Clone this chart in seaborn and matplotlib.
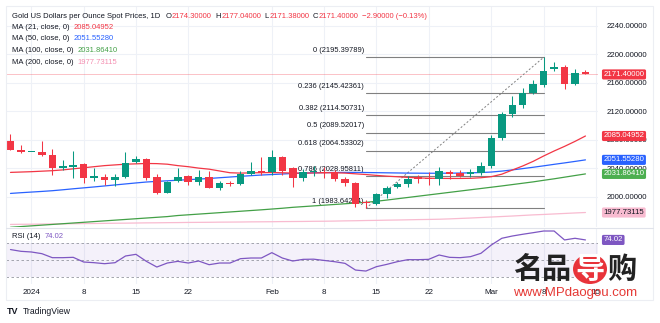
import matplotlib
matplotlib.use("Agg")
import numpy as np
import pandas as pd
import matplotlib.pyplot as plt
import matplotlib.transforms as mtransforms
from matplotlib.patches import Rectangle, Ellipse
from matplotlib.lines import Line2D
import seaborn as sns

# ---------------- data ----------------
opens = [2078.0, 2066.0, 2062.0, 2063.0, 2058.5, 2040.5, 2042.0, 2045.5, 2026.5, 2028.0,
         2023.5, 2027.0, 2048.5, 2053.0, 2028.0, 2005.5, 2022.5, 2029.0, 2021.0, 2028.0,
         2012.5, 2019.5, 2017.8, 2031.3, 2036.0, 2034.0, 2055.0, 2039.5, 2025.7, 2035.0,
         2035.0, 2034.0, 2024.7, 2019.0, 1992.0, 1990.0, 2004.0, 2013.0, 2017.7, 2027.9,
         2025.0, 2024.7, 2035.0, 2032.7, 2031.3, 2033.5, 2042.5, 2081.8, 2115.9, 2128.5,
         2145.8, 2156.5, 2179.0, 2182.2, 2157.9, 2174.3]
highs = [2088.0, 2073.0, 2063.0, 2078.5, 2067.0, 2051.5, 2064.0, 2046.5, 2039.5, 2031.5,
         2032.0, 2062.0, 2057.5, 2054.0, 2031.5, 2022.5, 2039.5, 2030.0, 2037.5, 2036.5,
         2022.5, 2022.0, 2036.5, 2049.0, 2056.0, 2065.5, 2057.0, 2041.0, 2039.0, 2043.0,
         2041.0, 2037.0, 2028.0, 2020.5, 1995.0, 2005.5, 2015.0, 2021.0, 2029.0, 2030.5,
         2035.0, 2041.0, 2037.5, 2037.5, 2039.0, 2049.0, 2086.4, 2119.0, 2141.1, 2151.9,
         2163.6, 2195.4, 2188.3, 2184.5, 2179.0, 2177.04]
lows = [2065.0, 2061.0, 2062.0, 2057.5, 2030.5, 2037.0, 2025.5, 2018.5, 2021.5, 2017.0,
        2015.5, 2026.0, 2047.0, 2024.0, 2003.5, 2004.5, 2020.0, 2017.0, 2016.5, 2011.5,
        2009.0, 2015.5, 2016.0, 2030.0, 2030.5, 2031.0, 2030.5, 2013.5, 2021.5, 2029.5,
        2025.7, 2022.5, 2015.5, 1985.9, 1983.64, 1988.0, 1998.5, 2012.0, 2014.0, 2018.5,
        2017.0, 2016.3, 2024.5, 2027.0, 2027.5, 2031.0, 2040.5, 2079.4, 2111.3, 2125.0,
        2143.5, 2154.2, 2176.0, 2150.9, 2156.0, 2171.38]
closes = [2066.0, 2063.0, 2062.5, 2058.5, 2040.5, 2043.0, 2044.0, 2026.5, 2029.0, 2023.5,
          2027.0, 2046.5, 2053.0, 2026.0, 2005.5, 2021.0, 2027.0, 2021.0, 2028.0, 2012.5,
          2019.5, 2017.8, 2031.3, 2036.0, 2033.5, 2055.0, 2036.0, 2025.7, 2035.0, 2035.5,
          2033.0, 2025.0, 2019.0, 1990.0, 1991.0, 2003.7, 2011.6, 2017.3, 2024.7, 2024.7,
          2024.5, 2036.4, 2032.2, 2029.3, 2034.0, 2042.9, 2082.6, 2115.9, 2128.5, 2145.8,
          2157.9, 2176.6, 2182.2, 2157.9, 2173.8, 2171.4]

ma21 = [2034.0, 2034.5, 2035.0, 2035.7, 2036.4, 2037.5, 2039.0, 2040.5, 2042.0, 2043.5,
        2044.5, 2045.5, 2046.0, 2046.5, 2046.3, 2045.5, 2043.5, 2042.0, 2040.0, 2038.5,
        2036.0, 2033.5, 2033.0, 2033.3, 2033.6, 2033.8, 2033.5, 2033.0, 2033.0, 2033.2,
        2033.4, 2033.5, 2033.0, 2032.0, 2031.0, 2029.8, 2028.7, 2027.9, 2027.0, 2026.3,
        2025.8, 2025.6, 2025.5, 2025.5, 2025.7, 2026.5, 2028.0, 2031.5, 2037.3, 2043.0,
        2049.5, 2057.0, 2064.0, 2070.5, 2077.5, 2085.05]
ma50 = [2004.5, 2005.5, 2006.4, 2007.3, 2008.3, 2009.6, 2011.0, 2012.3, 2013.6, 2015.0,
        2016.4, 2017.8, 2019.2, 2020.5, 2021.4, 2022.2, 2023.0, 2023.8, 2024.6, 2025.5,
        2026.5, 2027.5, 2028.5, 2029.4, 2030.3, 2031.0, 2031.7, 2032.5, 2033.0, 2033.4,
        2033.7, 2033.9, 2034.0, 2034.0, 2033.8, 2033.6, 2033.4, 2033.2, 2033.0, 2032.9,
        2032.8, 2032.8, 2032.9, 2033.1, 2033.4, 2033.8, 2034.5, 2035.8, 2037.5, 2039.3,
        2041.2, 2043.2, 2045.3, 2047.3, 2049.4, 2051.55]
ma100 = [1957.0, 1958.0, 1959.0, 1960.0, 1961.0, 1962.0, 1963.0, 1964.0, 1965.0, 1966.0,
         1967.0, 1968.0, 1969.0, 1970.0, 1971.0, 1972.0, 1973.5, 1974.5, 1975.5, 1976.5,
         1977.5, 1978.5, 1979.5, 1980.5, 1981.5, 1982.6, 1983.7, 1985.0, 1986.0, 1987.0,
         1988.0, 1989.0, 1990.0, 1991.0, 1992.0, 1993.5, 1995.2, 1997.0, 1998.8, 2000.6,
         2002.4, 2004.2, 2006.0, 2007.8, 2009.6, 2011.4, 2013.2, 2015.0, 2016.9, 2018.8,
         2020.7, 2022.9, 2025.0, 2027.3, 2029.6, 2031.86]
ma200 = [1961.0, 1961.2, 1961.3, 1961.5, 1961.7, 1961.8, 1962.0, 1962.2, 1962.3, 1962.5,
         1962.7, 1962.8, 1963.0, 1963.2, 1963.3, 1963.5, 1963.6, 1963.8, 1963.9, 1964.0,
         1964.2, 1964.3, 1964.4, 1964.6, 1964.7, 1964.8, 1965.0, 1965.1, 1965.2, 1965.4,
         1965.5, 1965.7, 1966.0, 1966.2, 1966.5, 1966.7, 1967.0, 1967.2, 1967.5, 1967.8,
         1968.0, 1968.3, 1968.8, 1969.4, 1970.0, 1970.7, 1971.4, 1972.1, 1972.8, 1973.6,
         1974.4, 1975.0, 1975.7, 1976.4, 1977.1, 1977.73]
rsi14 = [62.5, 60.4, 59.6, 57.6, 52.8, 52.8, 53.2, 47.6, 46.8, 45.6,
         46.8, 54.8, 56.8, 48.4, 41.6, 46.4, 48.4, 46.4, 48.8, 44.4,
         46.4, 46.4, 51.6, 52.4, 52.4, 58.8, 52.4, 48.8, 50.8, 51.0,
         49.5, 48.0, 46.0, 38.0, 36.8, 42.0, 44.8, 48.0, 50.4, 50.4,
         50.8, 56.0, 53.2, 52.8, 54.0, 58.0, 68.0, 76.0, 78.7, 80.8,
         82.7, 84.7, 84.7, 74.0, 76.0, 74.02]

date_tick_pos = [2, 7, 12, 17, 25, 30, 35, 40, 46, 51, 56]
date_tick_labels = ["2024", "8", "15", "22", "Feb", "8", "15", "22", "Mar", "8", "15"]
price_ticks = [2000, 2040, 2080, 2120, 2160, 2200, 2240]

fib_levels = ["0", "0.236", "0.382", "0.5", "0.618", "0.786", "1"]
fib_prices = [2195.39789, 2145.42361, 2114.50731, 2089.52017, 2064.53302, 2028.95811, 1983.64244]
fib_start, fib_end = 34, 51

ma_names = ["MA (21, close, 0)", "MA (50, close, 0)", "MA (100, close, 0)", "MA (200, close, 0)"]
ma_last = ["2085.04952", "2051.55280", "2031.86410", "1977.73115"]
ma_last_val = [2085.04952, 2051.55280, 2031.86410, 1977.73115]
title = "Gold US Dollars per Ounce Spot Prices, 1D"
ohlc_letters = ["O", "H", "L", "C"]
ohlc_values = ["2174.30000", "2177.04000", "2171.38000", "2171.40000"]
change_text = "\u22122.90000 (\u22120.13%)"
last_price = 2171.40
rsi_last = "74.02"

# ---------------- style ----------------
sns.set_theme(style="white")
FONT = ["Liberation Sans", "DejaVu Sans"]
CJK = ["Noto Sans CJK SC", "DejaVu Sans"]
plt.rcParams["font.family"] = FONT

W, H = 660, 323
GREEN, RED = "#089981", "#F23645"
DARK = "#131722"
MA_COLORS = ["#F23645", "#2962FF", "#43A047", "#F8BBD0"]
MA_TEXT = ["#F23645", "#2962FF", "#43A047", "#F48FB1"]
TAG_FC = ["#F23645", "#2962FF", "#4CAF50", "#F8BBD0"]
TAG_TC = ["white", "white", "white", DARK]
PURPLE = "#7E57C2"
GRID = "#eef1f7"

def fx(px):
    return px / W

def fy(py):
    return 1 - py / H

fig = plt.figure(figsize=(W / 100, H / 100), dpi=100)
fig.patch.set_facecolor("white")

ax = fig.add_axes([fx(6), fy(227), fx(598) - fx(6), fy(6) - fy(227)])
axr = fig.add_axes([fx(6), fy(284), fx(598) - fx(6), fy(228) - fy(284)], sharex=ax)

idx = np.arange(len(closes))
df = pd.DataFrame({"i": idx, "MA21": ma21, "MA50": ma50, "MA100": ma100,
                   "MA200": ma200, "RSI": rsi14})

# grid
for a in (ax, axr):
    a.set_facecolor("white")
    for s in a.spines.values():
        s.set_visible(False)
    for p in date_tick_pos:
        a.axvline(p, color=GRID, lw=0.8, zorder=0)
for p in price_ticks:
    ax.axhline(p, color=GRID, lw=0.8, zorder=0)

# MA lines (seaborn)
for col, c in zip(["MA200", "MA100", "MA50", "MA21"], MA_COLORS[::-1]):
    sns.lineplot(data=df, x="i", y=col, ax=ax, color=c, lw=0.9, legend=False, zorder=2)

# current price line
ax.axhline(last_price, color=RED, lw=0.6, alpha=0.35, zorder=1)

# fibonacci
for lv, p in zip(fib_levels, fib_prices):
    ax.plot([fib_start, fib_end], [p, p], color="#808080", lw=0.8, zorder=1.5)
    ax.annotate(f"{lv} ({p:.5f})", xy=(fib_start, p), xytext=(-1.5, 5),
                textcoords="offset points", ha="right", va="center",
                fontsize=5.4, color=DARK, zorder=1.6)
ax.plot([fib_start, fib_end], [fib_prices[-1], fib_prices[0]], color="#808080",
        lw=0.7, ls=(0, (2, 2)), zorder=1.5)

# candles
for i, (o, h, l, c) in enumerate(zip(opens, highs, lows, closes)):
    col = GREEN if c >= o else RED
    ax.vlines(i, l, h, color=col, lw=0.75, zorder=3)
    ax.bar(i, max(abs(c - o), 1.4), bottom=min(o, c), width=0.72, color=col,
           edgecolor="none", zorder=3)

ax.set_xlim(-0.43, 56.2)
ax.set_ylim(1957.4, 2267.4)
ax.set_xlabel("")
ax.set_ylabel("")
ax.yaxis.tick_right()
ax.set_yticks(price_ticks)
ax.set_yticklabels([f"{v:.5f}" for v in price_ticks])
ax.tick_params(axis="y", length=0, pad=6.5, labelsize=5.6, labelcolor=DARK)
ax.tick_params(axis="x", length=0, labelbottom=False)
ax.set_xticks(date_tick_pos)

# price tags
tr = mtransforms.blended_transform_factory(fig.transFigure, ax.transData)
ax.text(fx(603.5), last_price, f"{last_price:.5f}", transform=tr, ha="left", va="center",
        fontsize=5.6, color="white", clip_on=False, zorder=6,
        bbox=dict(boxstyle="round,pad=0.2,rounding_size=0.2", fc=RED, ec="none"))
for v, s, fc, tc in zip(ma_last_val, ma_last, TAG_FC, TAG_TC):
    ax.text(fx(603.5), v, s, transform=tr, ha="left", va="center", fontsize=5.6,
            color=tc, clip_on=False, zorder=6,
            bbox=dict(boxstyle="round,pad=0.2,rounding_size=0.2", fc=fc, ec="none"))

# RSI panel
axr.axhspan(30, 70, color=PURPLE, alpha=0.08, lw=0, zorder=0)
for lv in (70, 50, 30):
    axr.axhline(lv, color="#9598a1", lw=0.6, ls=(0, (3, 3)), zorder=1)
sns.lineplot(data=df, x="i", y="RSI", ax=axr, color=PURPLE, lw=0.9, legend=False, zorder=2)
axr.set_ylim(21.3, 88.3)
axr.set_xlim(-0.43, 56.2)
axr.set_xlabel("")
axr.set_ylabel("")
axr.set_yticks([])
axr.set_xticks(date_tick_pos)
axr.set_xticklabels(date_tick_labels)
axr.tick_params(axis="x", length=0, pad=3.5, labelsize=5.8, labelcolor=DARK)
trr = mtransforms.blended_transform_factory(fig.transFigure, axr.transData)
axr.text(fx(603.5), float(rsi_last), rsi_last, transform=trr, ha="left", va="center",
         fontsize=5.6, color="white", clip_on=False, zorder=6,
         bbox=dict(boxstyle="round,pad=0.2,rounding_size=0.2", fc=PURPLE, ec="none"))

# separators & border
fig.add_artist(Line2D([fx(6), fx(653)], [fy(227.5), fy(227.5)], color="#e0e3eb", lw=0.8))
fig.add_artist(Rectangle((fx(6), fy(300)), fx(653) - fx(6), fy(6) - fy(300),
                         fill=False, ec="#eceef3", lw=0.8, transform=fig.transFigure))

# header text runs
renderer = fig.canvas.get_renderer()

def runs(x_px, y_px, parts, size):
    x = x_px
    for s, col, gap in parts:
        t = fig.text(fx(x), fy(y_px), s, color=col, fontsize=size, ha="left", va="center")
        x += t.get_window_extent(renderer).width + gap

hdr = [(title, DARK, 5.5)]
for L, v in zip(ohlc_letters, ohlc_values):
    hdr += [(L, DARK, 0.3), (v, RED, 3.5)]
hdr += [(change_text, RED, 0)]
runs(12, 16, hdr, 5.5)
for k, (nm, val) in enumerate(zip(ma_names, ma_last)):
    runs(12, 27.5 + 11.5 * k, [(nm, DARK, 4), (val, MA_TEXT[k], 0)], 5.5)
runs(12, 236, [("RSI (14)", DARK, 4), (rsi_last, PURPLE, 0)], 5.5)

# TradingView footer
fig.text(fx(7), fy(311), "TV", fontsize=6.5, weight="heavy", color=DARK, ha="left", va="center")
fig.text(fx(22.5), fy(311), "TradingView", fontsize=6.2, color=DARK, ha="left", va="center")

# watermark
wm_chars = ["名", "品", "导", "购"]
wm_x = [528, 557, 590, 622]
fig.add_artist(Ellipse((fx(590), fy(269)), 34 / W, 30 / H, transform=fig.transFigure,
                       fc="#e8333a", ec="none", zorder=10))
for ch, x in zip(wm_chars, wm_x):
    fig.text(fx(x), fy(269), ch, family=CJK, fontsize=21, weight="bold",
             color="white" if ch == "导" else "#222222", ha="center", va="center", zorder=11)
fig.text(fx(575), fy(293), "www.MPdaogou.com", fontsize=9.5, color="#e53935",
         ha="center", va="center", zorder=11)

fig.savefig("out.png", dpi=100, facecolor="white")
